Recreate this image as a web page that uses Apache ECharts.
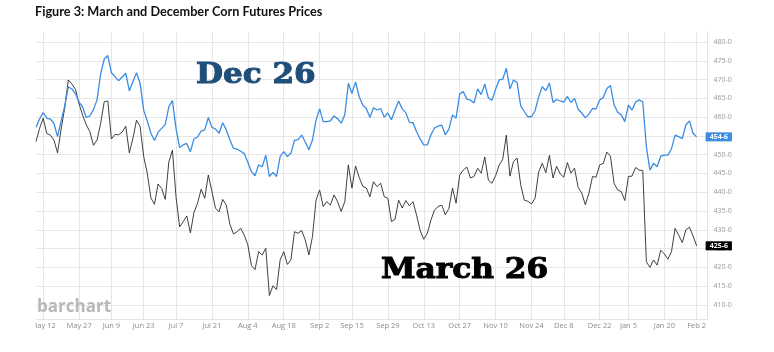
<!DOCTYPE html>
<html><head><meta charset="utf-8">
<script src="https://cdn.jsdelivr.net/npm/echarts@6/dist/echarts.min.js"></script>
<style>html,body{margin:0;padding:0;background:#fff}#c{width:774px;height:352px}</style>
</head><body><div id="c"></div>
<script>
const titleText = 'Figure 3: March and December Corn Futures Prices';
const tickLabels = ['May 12','May 27','Jun 9','Jun 23','Jul 7','Jul 21','Aug 4','Aug 18','Sep 2','Sep 15','Sep 29','Oct 13','Oct 27','Nov 10','Nov 24','Dec 8','Dec 22','Jan 5','Jan 20','Feb 2'];
const yTicks = [410,415,420,425,430,435,440,445,450,455,460,465,470,475,480];
const startDate = '2025-05-08';
const holidays = ['2025-05-26','2025-06-19','2025-07-04','2025-09-01','2025-11-27','2025-12-25','2026-01-01','2026-01-19'];
const padDays = 3;

// December 2026 corn futures (cents/bu), one value per trading day
const dec26 = [457.3,459.5,461.2,459.7,459.5,458.3,454.8,459,463,468.1,
467.5,466.2,464,462.7,459.9,460.3,462,464.6,471.5,475.4,
476.4,471.8,470.8,469.7,470.7,471.7,467,469.5,471.8,469,
461.8,459,455.7,453.8,456,457,458,462.8,464.4,457,
451.9,452.6,453,450.8,454.2,454.7,456.3,456.6,459.9,457.3,
456.8,455.7,458.5,456.6,454,451.7,451.5,450.9,450.3,448,
445.5,444.4,447.3,446.8,449.9,444.2,445.3,444.2,449.5,450.8,
449.5,450.4,453.8,454,455.2,453.4,451.3,453.9,459.2,462.2,
458.8,458.8,459,460.3,459.6,458.4,460.6,469,466.3,469.4,
465.5,463.2,462.3,459.9,462.5,461.9,462.3,460,461.1,459.3,
461.9,464.3,462.2,461.2,458.6,458.5,456.1,454.2,452.6,452.6,
455.3,457.1,457.6,457.9,455.3,456.8,460.6,459.7,466.2,466.8,
464.8,464.5,463.8,467.5,466,468.8,465.1,464.5,467.4,469.9,
470.1,473,467.5,469.9,469.2,463,461.5,460.1,460.1,461.7,
465.4,468.1,467.1,469.1,463.9,464.7,464.3,464,465.5,463.9,
465,462.1,461.1,459.8,460.8,462.3,462.2,464.6,465.2,467.6,
468.4,463.3,461.3,460.6,458.8,463.2,461.9,464,464.6,464.1,
452.1,445.9,447.7,446.8,449.6,449.9,449.9,451.6,455.2,454.8,
454.3,457.9,459,455.7,454.75];

// March 2026 corn futures
const mar26 = [453.5,457,459.7,455.7,455.2,453.9,450.5,456.8,462.5,469.9,
468.8,467.4,463.5,460.5,458,456.1,452.5,453.9,458.3,464.1,
464.3,454.2,455.4,455.3,456,457.6,450.5,454.4,459.2,457.5,
449.5,445,438.5,436.8,442.2,441,438.1,448.1,451.2,438.8,
430.8,432.2,433.7,429.2,434.6,437.1,440.8,438.4,444.6,440.2,
435.7,434.8,438.1,436.6,431.5,428.9,429.5,430.4,428.6,426,
420.5,419.4,424.2,423.3,425.1,412.5,415.1,414.1,422,424.2,
420.8,422,429.5,429.1,429.8,427.3,423.3,428.2,437.9,440.6,
436.2,437.5,436.6,439.3,437.5,434.9,437.5,447.3,441.1,447,
444,441.6,441.1,438.8,442.8,441.5,442.4,438.8,438.4,432.2,
432.8,437.9,435.8,437.8,436.4,437.5,433.9,429.8,427.5,429.1,
432.6,435.3,436.2,436.6,434,435.7,441.1,437.1,444.6,445.9,
446.7,443.8,444.2,446.4,445.1,449.4,443.2,442.4,444.4,447.2,
448.8,455.2,444.3,448.2,449.1,442,437.9,437.6,436.9,438.4,
445.4,447.7,445.2,449.8,443.8,446.9,444.9,444,447.9,445.1,
446.4,441.3,439.8,436.7,439.7,444.2,444,447.3,447.7,450.7,
449.6,442.4,440.6,440.2,437.8,444.2,444.3,446.6,445.9,445.8,
421.5,420,422,420.6,424.6,423.6,422.2,424.2,430.4,428.6,
426.6,430,430.7,428.4,425.75];

// trading-day categories
const MONTHS = ['Jan','Feb','Mar','Apr','May','Jun','Jul','Aug','Sep','Oct','Nov','Dec'];
const dates = [];
(function(){
  const d = new Date(startDate + 'T00:00:00Z');
  const total = dec26.length + padDays;
  while (dates.length < total) {
    const dow = d.getUTCDay();
    const iso = d.toISOString().slice(0,10);
    if (dow !== 0 && dow !== 6 && holidays.indexOf(iso) < 0) {
      dates.push(MONTHS[d.getUTCMonth()] + ' ' + d.getUTCDate());
    }
    d.setUTCDate(d.getUTCDate() + 1);
  }
})();
const tickSet = new Set();
dates.forEach((s, i) => { if (i < dec26.length && tickLabels.indexOf(s) >= 0) tickSet.add(i); });

function eighths(v){ const w = Math.floor(v + 1e-9); return w + '-' + Math.round((v - w) * 8); }

const chart = echarts.init(document.getElementById('c'), null, {renderer:'canvas'});
const gridCol = '#e6e6e6';
chart.setOption({
  animation: false,
  backgroundColor: '#fff',
  grid: {left: 36, right: 66.6, top: 32, bottom: 33, containLabel: false},
  xAxis: {
    type: 'category', data: dates, boundaryGap: false,
    axisLine: {show: true, lineStyle: {color: '#e3e3e3', width: 1}},
    axisTick: {show: false},
    axisLabel: {interval: (i) => tickSet.has(i), color: '#8c8c8c', fontSize: 7.5, fontFamily: 'Open Sans', margin: 3},
    splitLine: {show: true, interval: (i) => tickSet.has(i), lineStyle: {color: gridCol, width: 1}}
  },
  yAxis: {
    type: 'value', position: 'right', min: 406.27, max: 482.66, scale: true,
    axisLine: {show: true, lineStyle: {color: '#e3e3e3'}},
    axisTick: {show: false, customValues: yTicks},
    axisLabel: {customValues: yTicks, formatter: (v) => eighths(v), color: '#999', fontSize: 7, fontFamily: 'Open Sans', margin: 6},
    splitLine: {show: true, lineStyle: {color: gridCol, width: 1}}
  },
  series: [
    {name: 'Dec 26', type: 'line', data: dec26, symbol: 'none', z: 3,
     lineStyle: {color: '#3b8ce3', width: 1.3},
     endLabel: {show: true, formatter: (p) => eighths(Array.isArray(p.value) ? p.value[1] : p.value), distance: 9,
       backgroundColor: '#3b8ce3', color: '#fff', fontSize: 7, fontWeight: 'bold', fontFamily: 'Open Sans', padding: [1, 4]}},
    {name: 'Mar 26', type: 'line', data: mar26, symbol: 'none', z: 2,
     lineStyle: {color: '#2a2a2a', width: 0.9},
     endLabel: {show: true, formatter: (p) => eighths(Array.isArray(p.value) ? p.value[1] : p.value), distance: 9,
       backgroundColor: '#000', color: '#fff', fontSize: 7, fontWeight: 'bold', fontFamily: 'Open Sans', padding: [1, 4]}}
  ],
  graphic: [
    {type: 'text', left: 35, top: 5, style: {text: titleText, font: 'bold 12.7px Lato', fill: '#111'}},
    {type: 'text', x: 196, y: 62, scaleX: 1.11, z: 10, style: {text: 'Dec 26', font: 'bold 28px "DejaVu Serif"', fill: '#1f4e79', stroke: '#1f4e79', lineWidth: 1}},
    {type: 'text', x: 381, y: 257, scaleX: 1.115, z: 10, style: {text: 'March 26', font: 'bold 28px "DejaVu Serif"', fill: '#000', stroke: '#000', lineWidth: 1}},
    {type: 'text', x: 37, y: 299, z: 1, style: {text: 'barchart', font: 'bold 17px "Open Sans"', fill: '#b8b8b8'}},
    {type: 'rect', shape: {x: 0, y: 319.5, width: 35.5, height: 20}, z: 100, style: {fill: '#fff'}}
  ]
});
</script></body></html>
